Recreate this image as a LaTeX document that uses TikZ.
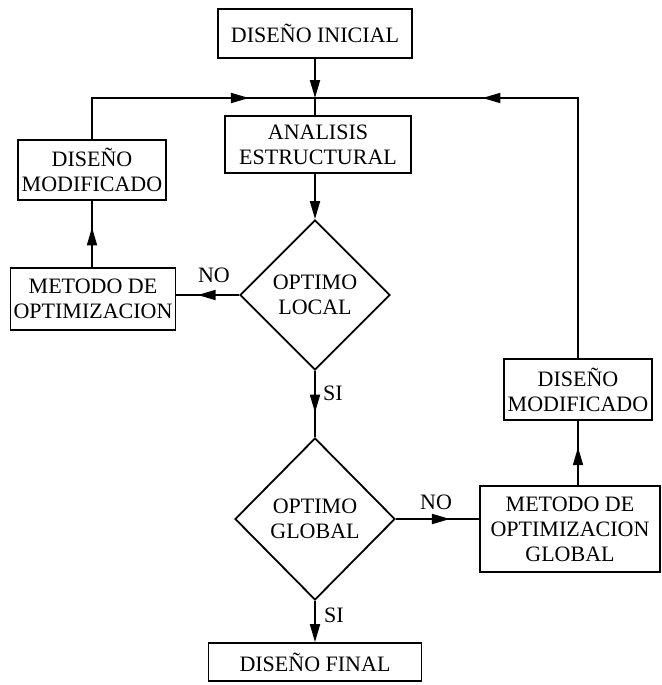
\documentclass[tikz,border=0pt]{standalone}
\usepackage{fontspec}
\setmainfont{Liberation Serif}
\usetikzlibrary{positioning,arrows.meta,shapes.geometric,calc,decorations.markings}

\begin{document}
\begin{tikzpicture}[x=0.5pt, y=-0.5pt, font=\fontsize{11}{12.5}\selectfont,
  caja/.style={draw, line width=0.9pt, align=center, inner sep=0pt},
  rombo/.style={draw, diamond, line width=0.9pt, align=center, inner sep=0pt},
  flecha/.style={line width=0.9pt, -{Triangle[length=9pt,width=5pt]}},
  linea/.style={line width=0.9pt},
  media/.style={line width=0.9pt, decoration={markings,
      mark=at position #1 with {\arrow{Triangle[length=9pt,width=5pt]}}},
    postaction={decorate}}]
% one coordinate unit is one pixel of the scanned figure
\useasboundingbox (0,0) rectangle (662,685);
% main column
\node[caja, minimum width=97pt, minimum height=24.5pt] (ini) at (315,33.5) {DISE\~NO INICIAL};
\coordinate (J) at (315,98);
\node[caja, minimum width=93pt, minimum height=28.5pt] (ana) at (318,144.5) {ANALISIS\\ESTRUCTURAL};
\node[rombo, minimum width=75pt, minimum height=75pt] (loc) at (315,295) {OPTIMO\\LOCAL};
\node[rombo, minimum width=80pt, minimum height=81pt] (glo) at (315,519) {OPTIMO\\GLOBAL};
\node[caja, minimum width=106.5pt, minimum height=19pt] (fin) at (315,662) {DISE\~NO FINAL};
% left loop
\node[caja, minimum width=74pt, minimum height=30pt] (dml) at (92,170) {DISE\~NO\\MODIFICADO};
\node[caja, minimum width=82.5pt, minimum height=31pt] (mol) at (93,299) {METODO DE\\OPTIMIZACION};
% right loop
\node[caja, minimum width=74pt, minimum height=30.5pt] (dmr) at (578,389.5) {DISE\~NO\\MODIFICADO};
\node[caja, minimum width=90pt, minimum height=43pt] (mog) at (570,529) {METODO DE\\OPTIMIZACION\\GLOBAL};
% labels
\node (no1) at (214,275) {NO};
\node (si1) at (333,393) {SI};
\node (no2) at (436,502) {NO};
\node (si2) at (334,615) {SI};
% connectors
\draw[flecha] (ini) -- (J);
\draw[linea] (J) -- (J |- ana.north);
\draw[flecha] (ana.south -| loc.north) -- (loc.north);
\draw[media=0.63] (loc.south) -- (glo.north);
\draw[flecha] (glo.south) -- (fin.north);
\draw[media=0.66] (loc.west) -- (loc.west -| mol.east);
\draw[media=0.6] (dml.south |- mol.north) -- (dml.south);
\draw[media=0.75] (dml.north) |- (J);
\draw[media=0.65] (glo.east) -- (glo.east -| mog.west);
\draw[media=0.59] (dmr.south |- mog.north) -- (dmr.south);
\draw[media=0.68] (dmr.north) |- (J);
\end{tikzpicture}
\end{document}
